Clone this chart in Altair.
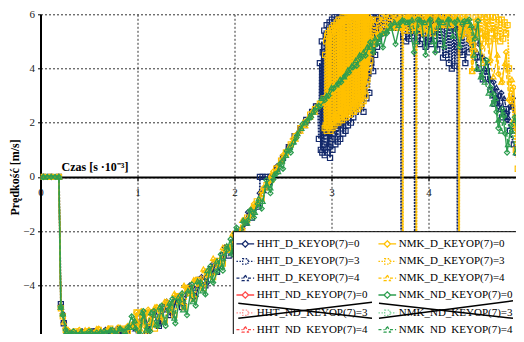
import altair as alt
import pandas as pd

# ---------------- colours / styles ----------------
NAVY = "#13296b"
GOLD = "#ffc000"
GREEN = "#2e9e50"
RED = "#ff4a4a"
LRED = "#ff9090"
LGREEN = "#7fd39a"
SOLID = [1, 0]
DOT = [2, 1]
DASH = [4, 2]

# ---------------- legend entries (column-major, 2 columns x 6 rows) ----------------
legend_names = [
    "HHT_D_KEYOP(7)=0", "HHT_D_KEYOP(7)=3", "HHT_D_KEYOP(7)=4",
    "HHT_ND_KEYOP(7)=0", "HHT_ND_KEYOP(7)=3", "HHT_ND_KEYOP(7)=4",
    "NMK_D_KEYOP(7)=0", "NMK_D_KEYOP(7)=3", "NMK_D_KEYOP(7)=4",
    "NMK_ND_KEYOP(7)=0", "NMK_ND_KEYOP(7)=3", "NMK_ND_KEYOP(7)=4",
]
legend_colors = [NAVY, NAVY, NAVY, RED, LRED, RED, GOLD, GOLD, GOLD, GREEN, LGREEN, GREEN]
legend_dashes = [[1, 0], [1.5, 1.5], [3, 2], [1, 0], [1.5, 1.5], [3, 2],
                 [1, 0], [1.5, 1.5], [3, 2], [1, 0], [1.5, 1.5], [3, 2]]
P_DIA = "M-1,0L-0.36,0M0.36,0L1,0M-0.36,0L0,-0.36L0.36,0L0,0.36Z"
P_SQ = "M-1,0L-0.3,0M0.3,0L1,0M-0.3,-0.3L0.3,-0.3L0.3,0.3L-0.3,0.3Z"
P_TRI = "M-1,0L-0.3,0M0.3,0L1,0M0,-0.36L0.34,0.28L-0.34,0.28Z"
legend_paths = [P_DIA, P_SQ, P_TRI, P_DIA, P_SQ, P_TRI, P_DIA, P_SQ, P_TRI, P_DIA, P_SQ, P_TRI]

# ---------------- data (time [ms], velocity [m/s]) ----------------
hht_d_3 = [(0.03,0),(0.10,0),(0.19,0),(0.21,-4.7),(0.24,-5.4),(0.27,-5.7),(0.33,-5.85),(0.40,-5.75),(0.47,-5.9),
    (0.54,-5.7),(0.61,-5.85),(0.68,-5.7),(0.75,-5.8),(0.82,-5.65),(0.89,-5.75),(0.96,-5.5),(1.01,-5.9),(1.05,-5.2),
    (1.10,-5.8),(1.16,-5.0),(1.22,-5.5),(1.28,-4.8),(1.34,-5.1),(1.40,-4.5),(1.46,-4.8),(1.52,-4.2),(1.58,-4.4),
    (1.64,-3.8),(1.70,-4.0),(1.76,-3.4),(1.82,-3.5),(1.88,-2.9),(1.94,-2.9),(2.00,-2.4),(2.06,-2.2),(2.12,-1.7),
    (2.18,-1.5),(2.24,-1.1),(2.26,-1.0),(2.262,0),(2.29,0),(2.33,0),(2.37,0),(2.39,0),(2.44,0.3),(2.50,0.7),
    (2.56,1.1),(2.62,1.5),(2.68,1.8),(2.74,2.1),(2.80,2.4),(2.84,2.6),
    (2.86,2.6),(2.87,1.4),(2.88,4.2),(2.89,1.0),(2.90,5.0),(2.905,0.9),(2.91,4.6),(2.92,1.2),(2.925,5.4),(2.93,0.8),
    (2.94,5.2),(2.945,1.5),(2.95,5.6),(2.96,0.9),(2.965,4.8),(2.97,1.1),(2.98,5.7),(2.985,0.7),(2.99,5.3),(3.00,1.4),
    (3.005,5.8),(3.01,1.0),(3.02,5.5),(3.025,1.6),(3.03,5.9),(3.04,1.2),(3.045,5.4),(3.05,1.8),(3.06,6.0),(3.065,1.3),
    (3.07,5.7),(3.08,1.9),(3.085,5.9),(3.09,1.4),(3.10,6.0),(3.105,2.0),(3.11,5.6),(3.12,1.6),(3.125,6.0),(3.13,2.2),
    (3.14,5.8),(3.145,1.7),(3.15,6.0),(3.16,2.4),(3.165,5.5),(3.17,1.9),(3.18,6.0),(3.185,2.3),(3.19,5.9),(3.20,2.0),
    (3.205,6.0),(3.21,2.6),(3.22,5.7),(3.225,2.2),(3.23,6.0),(3.24,2.8),(3.245,5.9),(3.25,2.4),(3.26,6.0),(3.265,3.0),
    (3.27,5.8),(3.28,2.5),(3.285,6.0),(3.29,3.2),(3.30,5.9),(3.305,2.7),(3.31,6.0),(3.32,3.4),(3.325,5.7),(3.33,2.4),
    (3.34,6.0),(3.35,3.6),(3.355,5.9),(3.36,2.9),(3.37,6.0),(3.38,3.8),(3.385,5.8),(3.39,3.1),(3.40,6.0),(3.41,4.2),
    (3.42,5.9),(3.43,3.9),(3.44,5.8),(3.45,4.5),(3.46,6.0),(3.47,4.8),(3.48,5.9),(3.49,5.1),(3.50,5.7),(3.51,5.3),
    (3.52,5.6),(3.54,5.8),(3.56,5.4),(3.58,5.9),(3.60,5.5),(3.62,6.0),(3.64,5.6),(3.66,5.9),(3.68,5.5),(3.70,5.9),
    (3.715,5.7),(3.72,-7),(3.725,5.8),(3.74,5.2),(3.755,5.9),(3.77,5.0),(3.785,5.8),(3.80,5.1),(3.815,5.9),(3.83,5.2),
    (3.845,5.9),(3.855,5.5),(3.86,-7),(3.865,5.6),(3.88,5.0),(3.895,5.9),(3.91,4.9),(3.925,5.8),(3.94,5.1),(3.955,5.9),
    (3.97,4.8),(3.985,5.8),(4.00,5.0),(4.015,5.9),(4.03,4.9),(4.045,5.8),(4.06,5.2),(4.075,5.9),(4.09,4.7),(4.105,5.8),
    (4.12,4.9),(4.135,5.9),(4.15,4.4),(4.165,5.8),(4.18,4.5),(4.195,5.9),(4.21,4.2),(4.225,5.8),(4.24,4.0),(4.255,5.7),
    (4.27,4.1),(4.285,5.6),(4.295,4.8),(4.30,-7),(4.305,5.5),(4.32,4.6),(4.335,5.6),(4.35,4.5),(4.365,5.5),(4.38,4.2),
    (4.40,5.3),(4.42,4.6),(4.45,5.0),(4.48,4.4),(4.52,4.0),(4.56,3.6),(4.60,3.9),(4.64,3.2),(4.68,2.7),(4.72,3.0),
    (4.76,2.2),(4.80,2.5),(4.84,1.7),(4.88,1.2),(4.91,0.9),(4.94,-0.8),(4.97,-3.0),(5.0,-5.0)]

hht_d_4 = [(0.03,0),(0.19,0),(0.21,-4.8),(0.24,-5.3),(0.28,-5.7),(0.35,-5.8),(0.42,-5.7),(0.50,-5.8),(0.58,-5.7),
    (0.66,-5.75),(0.74,-5.65),(0.82,-5.7),(0.90,-5.6),(0.98,-5.6),(1.04,-5.3),(1.10,-5.5),(1.16,-5.1),(1.22,-5.2),
    (1.28,-4.9),(1.34,-4.8),(1.40,-4.6),(1.46,-4.5),(1.52,-4.3),(1.58,-4.1),(1.64,-3.9),(1.70,-3.7),(1.76,-3.5),
    (1.82,-3.2),(1.88,-3.0),(1.94,-2.6),(2.00,-2.4),(2.06,-2.0),(2.12,-1.7),(2.18,-1.3),(2.24,-1.0),(2.30,-0.5),
    (2.36,-0.2),(2.42,0.2),(2.48,0.6),(2.54,1.0),(2.60,1.3),(2.66,1.7),(2.72,1.9),(2.78,2.3),(2.84,2.5),(2.90,2.8),
    (2.96,3.1),(3.02,3.3),(3.08,3.6),(3.14,3.8),(3.20,4.1),(3.26,4.3),(3.32,4.6),(3.38,4.8),(3.44,5.0),(3.50,5.3),
    (3.56,5.4),(3.62,5.6),(3.68,5.7),(3.74,5.6),(3.80,5.8),(3.86,5.6),(3.92,5.8),(3.98,5.6),(4.04,5.8),(4.10,5.6),
    (4.16,5.75),(4.22,5.5),(4.28,5.7),(4.34,5.4),(4.40,5.6),(4.46,5.2),(4.50,4.6),(4.54,4.4),(4.58,4.0),(4.62,3.6),
    (4.66,3.0),(4.70,3.3),(4.74,2.5),(4.78,2.9),(4.82,2.2),(4.86,2.6),(4.90,2.1),(4.94,2.9),(4.98,2.4)]

hht_d_0 = [(0.03,0),(0.11,0),(0.19,0),(0.21,-4.75),(0.23,-5.05),(0.26,-5.6),(0.31,-5.75),(0.37,-5.8),(0.43,-5.7),
    (0.49,-5.85),(0.55,-5.7),(0.61,-5.8),(0.67,-5.65),(0.73,-5.75),(0.79,-5.6),(0.85,-5.7),(0.91,-5.55),(0.97,-5.4),
    (1.02,-5.85),(1.07,-5.0),(1.12,-5.65),(1.18,-4.9),(1.24,-5.4),(1.30,-4.6),(1.36,-5.0),(1.42,-4.4),(1.48,-4.7),
    (1.54,-4.0),(1.60,-4.4),(1.66,-3.7),(1.72,-3.9),(1.78,-3.2),(1.84,-3.3),(1.90,-2.6),(1.96,-2.6),(2.02,-2.0),
    (2.08,-1.9),(2.14,-1.3),(2.20,-1.2),(2.26,-0.6),(2.32,-0.4),(2.38,0.0),(2.44,0.4),(2.50,0.7),(2.56,1.1),(2.62,1.4),
    (2.68,1.8),(2.74,2.0),(2.80,2.4),(2.86,2.6),(2.92,2.9),(2.98,3.1),(3.04,3.4),(3.10,3.6),(3.16,3.9),(3.22,4.1),
    (3.28,4.3),(3.34,4.6),(3.40,4.9),(3.46,5.1),(3.52,5.3),(3.58,5.5),(3.64,5.6),(3.70,5.7),(3.76,5.75),(3.82,5.7),
    (3.88,5.8),(3.94,5.7),(4.00,5.8),(4.06,5.7),(4.12,5.75),(4.18,5.6),(4.24,5.7),(4.30,5.5),(4.36,5.6),(4.42,5.4),
    (4.48,5.5),(4.52,4.9),(4.56,4.4),(4.61,4.2),(4.64,3.6),(4.67,3.5),(4.70,2.9),(4.72,2.6),(4.75,3.1),(4.78,2.4),
    (4.81,2.1),(4.84,2.6),(4.87,2.9),(4.90,1.8),(4.92,1.0),(4.95,3.1),(4.98,2.8)]

nmk_d_3 = [(0.03,0),(0.11,0),(0.19,0),(0.21,-4.85),(0.23,-5.15),(0.26,-5.65),(0.30,-5.9),(0.36,-5.7),(0.42,-5.9),
    (0.48,-5.7),(0.54,-5.85),(0.60,-5.65),(0.66,-5.8),(0.72,-5.6),(0.78,-5.75),(0.84,-5.6),(0.90,-5.7),(0.96,-5.45),
    (0.99,-5.0),(1.02,-5.9),(1.05,-5.1),(1.09,-5.8),(1.13,-5.0),(1.18,-5.6),(1.23,-4.9),(1.28,-5.3),(1.33,-4.7),
    (1.38,-5.1),(1.43,-4.4),(1.48,-4.8),(1.53,-4.1),(1.58,-4.5),(1.63,-3.8),(1.68,-4.1),(1.73,-3.5),(1.78,-3.7),
    (1.83,-3.1),(1.88,-3.2),(1.93,-2.6),(1.98,-2.6),(2.03,-2.1),(2.08,-2.0),(2.13,-1.5),(2.18,-1.4),(2.23,-0.9),
    (2.28,-0.8),(2.33,-0.3),(2.38,-0.1),(2.43,0.3),(2.48,0.6),(2.53,0.9),(2.58,1.2),(2.63,1.5),(2.68,1.8),(2.73,2.0),
    (2.78,2.3),(2.83,2.5),(2.88,2.7),(2.92,2.9),
    (2.93,1.8),(2.935,4.5),(2.94,1.9),(2.945,5.0),(2.95,1.7),(2.955,5.2),(2.96,2.0),(2.965,5.3),(2.97,1.8),(2.975,5.1),
    (2.98,1.9),(2.985,5.4),(2.99,1.7),(2.995,5.3),(3.00,2.0),(3.005,5.5),(3.01,1.8),(3.015,5.4),(3.02,2.1),(3.025,5.6),
    (3.03,1.9),(3.035,5.5),(3.04,2.2),(3.045,5.6),(3.05,2.0),(3.055,5.7),(3.06,2.2),(3.065,5.6),(3.07,2.0),(3.075,5.8),
    (3.08,2.3),(3.085,5.7),(3.09,2.1),(3.095,5.8),(3.10,2.3),(3.105,5.7),(3.11,2.1),(3.115,5.9),(3.12,2.4),(3.125,5.8),
    (3.13,2.2),(3.135,5.9),(3.14,2.4),(3.145,5.8),(3.15,2.2),(3.155,5.9),(3.16,2.5),(3.165,5.8),(3.17,2.3),(3.175,6.0),
    (3.18,2.5),(3.185,5.9),(3.19,2.3),(3.195,6.0),(3.20,2.6),(3.205,5.9),(3.21,2.4),(3.215,6.0),(3.22,2.6),(3.225,5.9),
    (3.23,2.4),(3.235,6.0),(3.24,2.7),(3.245,5.9),(3.25,2.5),(3.255,6.0),(3.26,2.7),(3.265,6.0),(3.27,2.5),(3.275,5.9),
    (3.28,2.8),(3.285,6.0),(3.29,2.6),(3.295,6.0),(3.30,2.9),(3.305,5.9),(3.31,2.7),(3.315,6.0),(3.32,3.0),(3.325,5.9),
    (3.33,2.8),(3.335,6.0),(3.34,3.2),(3.345,5.9),(3.35,3.0),(3.355,5.9),(3.36,3.4),(3.365,5.8),(3.37,3.6),(3.375,5.9),
    (3.38,3.9),(3.385,5.8),(3.39,4.1),(3.395,5.8),(3.40,4.3),(3.405,5.7),(3.41,4.6),(3.415,5.8),(3.42,4.9),
    (3.44,5.6),(3.46,5.2),(3.48,5.8),(3.50,5.4),(3.52,5.9),(3.54,5.5),(3.56,6.0),(3.58,5.6),(3.60,5.9),(3.62,5.5),
    (3.64,6.0),(3.66,5.6),(3.68,5.9),(3.70,5.5),(3.72,5.9),(3.73,5.8),(3.735,-7),(3.74,5.8),(3.75,5.4),(3.765,6.0),
    (3.78,5.5),(3.795,5.9),(3.81,5.4),(3.825,6.0),(3.84,5.5),(3.855,5.9),(3.87,5.8),(3.875,-7),(3.88,5.7),(3.895,5.4),
    (3.91,6.0),(3.925,5.5),(3.94,5.9),(3.955,5.3),(3.97,6.0),(3.985,5.5),(4.00,5.9),(4.015,5.4),(4.03,6.0),(4.045,5.3),
    (4.06,5.9),(4.075,5.5),(4.09,6.0),(4.105,5.6),(4.12,5.95),(4.135,5.7),(4.15,6.0),(4.165,5.6),(4.18,5.9),(4.195,5.7),
    (4.21,6.0),(4.225,5.6),(4.24,5.9),(4.255,5.7),(4.27,5.95),(4.285,5.7),(4.30,5.9),(4.31,5.8),(4.315,-7),(4.32,5.7),
    (4.335,5.3),(4.35,5.9),(4.365,5.4),(4.38,6.0),(4.395,5.3),(4.41,5.9),(4.425,5.2),(4.44,5.7),(4.45,3.9),(4.47,5.4),
    (4.485,5.9),(4.50,5.2),(4.515,5.95),(4.53,5.3),(4.545,5.9),(4.56,5.1),(4.575,6.0),(4.59,5.2),(4.605,5.9),(4.62,5.0),
    (4.635,5.95),(4.65,5.3),(4.665,5.9),(4.68,5.1),(4.695,5.9),(4.71,5.2),(4.725,5.8),(4.74,5.0),(4.755,5.8),(4.77,5.1),
    (4.785,5.7),(4.80,5.3),(4.815,5.6),(4.83,4.0),(4.86,2.8),(4.88,2.0),(4.90,1.0),(4.92,0.3),(4.94,-1.0),(4.96,-3.0),
    (4.98,-5.0),(5.0,-6.5)]

nmk_d_4 = [(0.03,0),(0.19,0),(0.21,-4.75),(0.24,-5.35),(0.28,-5.75),(0.34,-5.7),(0.40,-5.8),(0.46,-5.65),(0.52,-5.8),
    (0.58,-5.6),(0.64,-5.75),(0.70,-5.6),(0.76,-5.7),(0.82,-5.55),(0.88,-5.65),(0.94,-5.5),(0.99,-5.3),(1.03,-5.6),
    (1.08,-5.0),(1.13,-5.4),(1.18,-4.8),(1.23,-5.1),(1.28,-4.6),(1.33,-4.9),(1.38,-4.3),(1.43,-4.6),(1.48,-4.0),
    (1.53,-4.3),(1.58,-3.8),(1.63,-3.9),(1.68,-3.4),(1.73,-3.6),(1.78,-3.0),(1.83,-3.2),(1.88,-2.6),(1.93,-2.7),
    (1.98,-2.1),(2.03,-2.2),(2.08,-1.6),(2.13,-1.6),(2.18,-1.1),(2.23,-1.0),(2.28,-0.5),(2.33,-0.4),(2.38,0.1),
    (2.43,0.2),(2.48,0.6),(2.53,0.8),(2.58,1.2),(2.63,1.4),(2.68,1.7),(2.73,1.9),(2.78,2.2),(2.83,2.4),(2.88,2.7),
    (2.93,2.8),(2.98,3.2),(3.03,3.3),(3.08,3.6),(3.13,3.7),(3.18,4.0),(3.23,4.1),(3.28,4.4),(3.33,4.5),(3.38,4.8),
    (3.43,4.9),(3.48,5.2),(3.53,5.3),(3.58,5.5),(3.63,5.6),(3.68,5.8),(3.73,5.5),(3.78,5.9),(3.83,5.6),(3.88,5.9),
    (3.93,5.5),(3.98,5.9),(4.03,5.4),(4.08,5.9),(4.13,5.6),(4.18,5.85),(4.23,5.6),(4.28,5.9),(4.33,5.4),(4.38,5.8),
    (4.42,5.1),(4.45,3.9),(4.48,4.7),(4.52,5.5),(4.56,4.2),(4.60,5.2),(4.63,4.3),(4.67,3.7),(4.71,4.5),(4.75,3.5),
    (4.79,4.2),(4.83,2.9),(4.86,3.6),(4.90,1.9),(4.93,2.7),(4.96,1.2),(4.99,0.5)]

nmk_d_0 = [(0.03,0),(0.11,0),(0.19,0),(0.21,-4.8),(0.23,-5.1),(0.26,-5.6),(0.30,-5.7),(0.35,-5.8),(0.40,-5.65),
    (0.45,-5.8),(0.50,-5.65),(0.55,-5.75),(0.60,-5.6),(0.65,-5.75),(0.70,-5.6),(0.75,-5.7),(0.80,-5.55),(0.85,-5.65),
    (0.90,-5.5),(0.95,-5.45),(0.99,-5.0),(1.01,-5.7),(1.04,-4.95),(1.07,-5.5),(1.11,-4.9),(1.15,-5.4),(1.20,-4.8),
    (1.25,-5.2),(1.30,-4.6),(1.35,-4.9),(1.40,-4.4),(1.45,-4.6),(1.50,-4.1),(1.55,-4.3),(1.60,-3.8),(1.65,-4.0),
    (1.70,-3.5),(1.75,-3.6),(1.80,-3.1),(1.85,-3.2),(1.90,-2.7),(1.95,-2.7),(2.00,-2.2),(2.05,-2.1),(2.10,-1.6),
    (2.15,-1.5),(2.20,-1.0),(2.25,-0.9),(2.30,-0.4),(2.35,-0.2),(2.40,0.2),(2.45,0.4),(2.50,0.8),(2.55,1.0),(2.60,1.4),
    (2.65,1.6),(2.70,1.9),(2.75,2.1),(2.80,2.4),(2.85,2.6),(2.90,2.8),(2.95,3.0),(3.00,3.3),(3.05,3.4),(3.10,3.7),
    (3.15,3.8),(3.20,4.1),(3.25,4.2),(3.30,4.5),(3.35,4.6),(3.40,4.9),(3.45,5.0),(3.50,5.3),(3.55,5.3),(3.60,5.6),
    (3.65,5.5),(3.70,5.8),(3.75,5.6),(3.80,5.9),(3.85,5.5),(3.90,5.9),(3.95,5.4),(4.00,5.9),(4.05,5.5),(4.10,5.9),
    (4.15,5.6),(4.20,5.9),(4.25,5.65),(4.30,5.8),(4.35,5.2),(4.40,5.8),(4.43,5.0),(4.46,4.5),(4.50,5.6),(4.55,4.8),
    (4.60,5.7),(4.64,4.3),(4.68,5.5),(4.72,3.8),(4.76,3.5),(4.80,4.6),(4.84,2.8),(4.88,3.3),(4.91,1.0),(4.94,1.8),
    (4.97,0.4)]

nmk_nd_4 = [(0.03,0),(0.19,0),(0.21,-4.8),(0.23,-5.05),(0.27,-5.7),(0.32,-5.75),(0.37,-5.8),(0.42,-5.7),(0.47,-5.85),
    (0.52,-5.7),(0.57,-5.8),(0.62,-5.7),(0.67,-5.75),(0.72,-5.65),(0.77,-5.75),(0.82,-5.6),(0.87,-5.7),(0.92,-5.55),
    (0.97,-5.3),(1.01,-5.85),(1.05,-5.0),(1.09,-5.65),(1.14,-5.0),(1.19,-5.45),(1.23,-4.8),(1.28,-5.35),(1.33,-4.65),
    (1.38,-5.2),(1.42,-4.45),(1.47,-4.9),(1.52,-4.2),(1.57,-4.6),(1.62,-3.85),(1.67,-4.2),(1.72,-3.45),(1.77,-3.8),
    (1.82,-3.1),(1.87,-3.3),(1.92,-2.55),(1.97,-2.8),(2.01,-2.0),(2.05,-2.3),(2.09,-1.6),(2.13,-1.7),(2.17,-1.2),
    (2.21,-1.3),(2.25,-0.8),(2.29,-0.9),(2.33,-0.3),(2.37,-0.4),(2.41,0.1),(2.45,0.2),(2.49,0.6),(2.53,0.8),(2.57,1.1),
    (2.61,1.3),(2.65,1.6),(2.69,1.8),(2.73,2.0),(2.77,2.2),(2.81,2.4),(2.85,2.6),(2.90,2.9),(2.95,3.0),(3.00,3.3),
    (3.05,3.4),(3.09,3.6),(3.13,3.7),(3.17,3.95),(3.21,4.1),(3.25,4.3),(3.29,4.5),(3.33,4.6),(3.37,4.8),(3.41,4.8),
    (3.45,5.1),(3.49,5.0),(3.53,5.3),(3.57,5.4),(3.61,5.5),(3.65,5.7),(3.69,5.6),(3.73,5.8),(3.78,5.7),(3.83,5.8),
    (3.87,5.0),(3.91,5.8),(3.96,5.7),(4.01,5.8),(4.05,5.0),(4.10,5.8),(4.15,5.7),(4.20,5.8),(4.25,5.2),(4.30,5.8),
    (4.35,5.7),(4.40,5.75),(4.44,5.6),(4.47,4.5),(4.50,4.0),(4.54,3.7),(4.58,3.5),(4.62,3.1),(4.66,2.7),(4.69,2.9),
    (4.72,2.1),(4.75,1.7),(4.78,2.3),(4.82,1.2),(4.86,1.7),(4.90,0.9),(4.94,1.5),(4.97,0.7)]

nmk_nd_0 = [(0.03,0),(0.07,0),(0.11,0),(0.15,0),(0.19,0),(0.21,-4.8),(0.23,-5.1),(0.26,-5.65),(0.30,-5.8),(0.34,-5.7),
    (0.38,-5.85),(0.42,-5.75),(0.46,-5.8),(0.50,-5.7),(0.54,-5.85),(0.58,-5.75),(0.62,-5.8),(0.66,-5.7),(0.70,-5.75),
    (0.74,-5.65),(0.78,-5.8),(0.82,-5.6),(0.86,-5.7),(0.90,-5.55),(0.94,-5.15),(0.98,-5.6),(1.03,-5.8),(1.06,-4.95),
    (1.10,-5.6),(1.13,-5.7),(1.17,-4.95),(1.21,-5.5),(1.25,-4.75),(1.29,-5.5),(1.32,-4.9),(1.36,-4.5),(1.39,-5.4),
    (1.43,-4.6),(1.46,-4.3),(1.51,-5.1),(1.56,-3.97),(1.60,-4.75),(1.65,-3.9),(1.70,-4.33),(1.75,-3.3),(1.78,-3.9),
    (1.82,-3.5),(1.86,-2.86),(1.88,-3.46),(1.92,-2.7),(1.96,-2.3),(1.98,-2.86),(2.02,-1.87),(2.06,-2.2),(2.10,-1.7),
    (2.14,-1.6),(2.16,-1.24),(2.20,-1.5),(2.24,-1.0),(2.28,-1.17),(2.33,-0.12),(2.37,-0.6),(2.40,-0.1),(2.43,0.12),
    (2.47,0.48),(2.50,0.3),(2.54,0.96),(2.58,0.9),(2.64,1.45),(2.70,1.95),(2.75,2.07),(2.79,2.2),(2.83,2.45),(2.88,2.6),
    (2.93,2.83),(2.97,3.0),(3.02,3.26),(3.07,3.44),(3.10,3.5),(3.14,3.73),(3.18,3.85),(3.22,4.04),(3.26,4.1),(3.30,4.37),
    (3.35,4.48),(3.40,4.97),(3.43,4.6),(3.47,4.9),(3.50,5.2),(3.53,4.78),(3.57,5.3),(3.61,5.6),(3.66,4.9),(3.71,5.7),
    (3.75,5.75),(3.80,5.7),(3.85,4.6),(3.89,5.8),(3.93,5.7),(3.97,4.5),(4.02,5.8),(4.07,4.6),(4.11,5.75),(4.16,4.8),
    (4.21,5.8),(4.27,5.7),(4.32,4.8),(4.37,5.75),(4.42,5.8),(4.48,5.1),(4.51,5.75),(4.55,3.7),(4.60,4.3),(4.64,3.3),
    (4.67,3.05),(4.70,2.4),(4.72,1.8),(4.76,2.5),(4.79,1.6),(4.81,0.9),(4.85,1.9),(4.89,2.2),(4.93,1.3),(4.97,0.6)]

# drawing order: navy (HHT_D) below, gold (NMK_D), green (NMK_ND) on top
series = [
    (hht_d_3, NAVY, DOT, "square", 1.8),
    (hht_d_4, NAVY, DASH, "triangle-up", 1.3),
    (hht_d_0, NAVY, SOLID, "diamond", 1.3),
    (nmk_d_3, GOLD, DOT, "square", 1.8),
    (nmk_d_4, GOLD, DASH, "triangle-up", 1.3),
    (nmk_d_0, GOLD, SOLID, "diamond", 1.3),
    (nmk_nd_4, GREEN, DASH, "triangle-up", 1.3),
    (nmk_nd_0, GREEN, SOLID, "diamond", 1.4),
]

x_ticks = [0, 1, 2, 3, 4]
y_ticks = [-6, -4, -2, 0, 2, 4, 6]

W, H = 485, 325.2
SERIF = "Liberation Serif"

x_enc = alt.X(
    "t:Q",
    scale=alt.Scale(domain=[0, 5], nice=False, zero=False),
    axis=alt.Axis(
        values=x_ticks, format="d", offset=-162.6,
        title="Czas [s ·10⁻³]", titleX=54, titleY=-6, titleAlign="center", titleBaseline="alphabetic",
        titleFont=SERIF, titleFontSize=12, titleFontWeight="bold", titleColor="black",
        labelFont=SERIF, labelFontSize=11, labelColor="#222", labelPadding=6, labelFlush=False,
        domainColor="black", domainWidth=2, tickColor="black", tickSize=4, tickWidth=1,
        grid=True, gridColor="#333", gridDash=[2, 2], gridWidth=1,
    ),
)
y_enc = alt.Y(
    "v:Q",
    scale=alt.Scale(domain=[-6, 6], nice=False, zero=False),
    axis=alt.Axis(
        values=y_ticks, title="Prędkość [m/s]",
        titleFont=SERIF, titleFontSize=12, titleFontWeight="bold", titleColor="black", titlePadding=1,
        labelFont=SERIF, labelFontSize=11, labelColor="#222", labelPadding=3,
        domainColor="black", domainWidth=2, tickColor="black", tickSize=3, tickWidth=1,
        grid=True, gridColor="#333", gridDash=[2, 2], gridWidth=1,
    ),
)

layers = []
for pairs, col, dash, shp, lw in series:
    df = pd.DataFrame(pairs, columns=["t", "v"])
    df["i"] = range(len(df))
    base = alt.Chart(df).encode(x=x_enc, y=y_enc, order="i:Q")
    layers.append(base.mark_line(color=col, strokeDash=dash, strokeWidth=lw, clip=True))
    layers.append(base.mark_point(shape=shp, color=col, filled=False, size=26, strokeWidth=1.2, clip=True, opacity=1))

# legend background box
dummy = pd.DataFrame({"a": [0]})
layers.append(
    alt.Chart(dummy).mark_rect(fill="white", stroke="black", strokeWidth=1).encode(
        x=alt.value(192.8), x2=alt.value(520), y=alt.value(217.4), y2=alt.value(345)
    )
)
# strike-through crosses over the "=3" ND entries
for (a, b, c, d) in [(197.8, 289.0, 331.5, 304.0), (197.8, 304.0, 331.5, 288.0),
                     (338.5, 289.0, 472.5, 304.0), (338.5, 304.0, 472.5, 286.5)]:
    layers.append(
        alt.Chart(dummy).mark_rule(color="black", strokeWidth=1.5).encode(
            x=alt.value(a), y=alt.value(b), x2=alt.value(c), y2=alt.value(d)
        )
    )

# legend-carrying layer (points outside the x domain, clipped away)
leg_df = pd.DataFrame({"series": legend_names, "t": [-1.0] * 12, "v": [0.0] * 12})
layers.append(
    alt.Chart(leg_df).mark_point(filled=False, clip=True).encode(
        x=x_enc, y=y_enc,
        color=alt.Color("series:N", scale=alt.Scale(domain=legend_names, range=legend_colors), legend=alt.Legend(title=None)),
        shape=alt.Shape("series:N", scale=alt.Scale(domain=legend_names, range=legend_paths), legend=alt.Legend(title=None)),
        strokeDash=alt.StrokeDash("series:N", scale=alt.Scale(domain=legend_names, range=legend_dashes), legend=alt.Legend(title=None)),
    )
)

chart = (
    alt.layer(*layers)
    .properties(
        width=W, height=H,
        # negative right/bottom padding crops the view like the reference image, keeping the page inside the window
        padding={"left": 32.5, "top": 6.3, "right": -9.5, "bottom": -5.5},
        autosize=alt.AutoSizeParams(type="none"),
    )
    .configure_view(stroke=None)
    .configure_legend(
        orient="none", legendX=195.3, legendY=219.8, columns=2, padding=0,
        rowPadding=1.8, columnPadding=8, labelFont=SERIF, labelFontSize=11, labelColor="black",
        labelOffset=2, symbolSize=313, symbolStrokeWidth=1.3, symbolOpacity=1, gridAlign="each",
    )
)

chart.save("out.html", embed_options={"renderer": "svg", "actions": False})
